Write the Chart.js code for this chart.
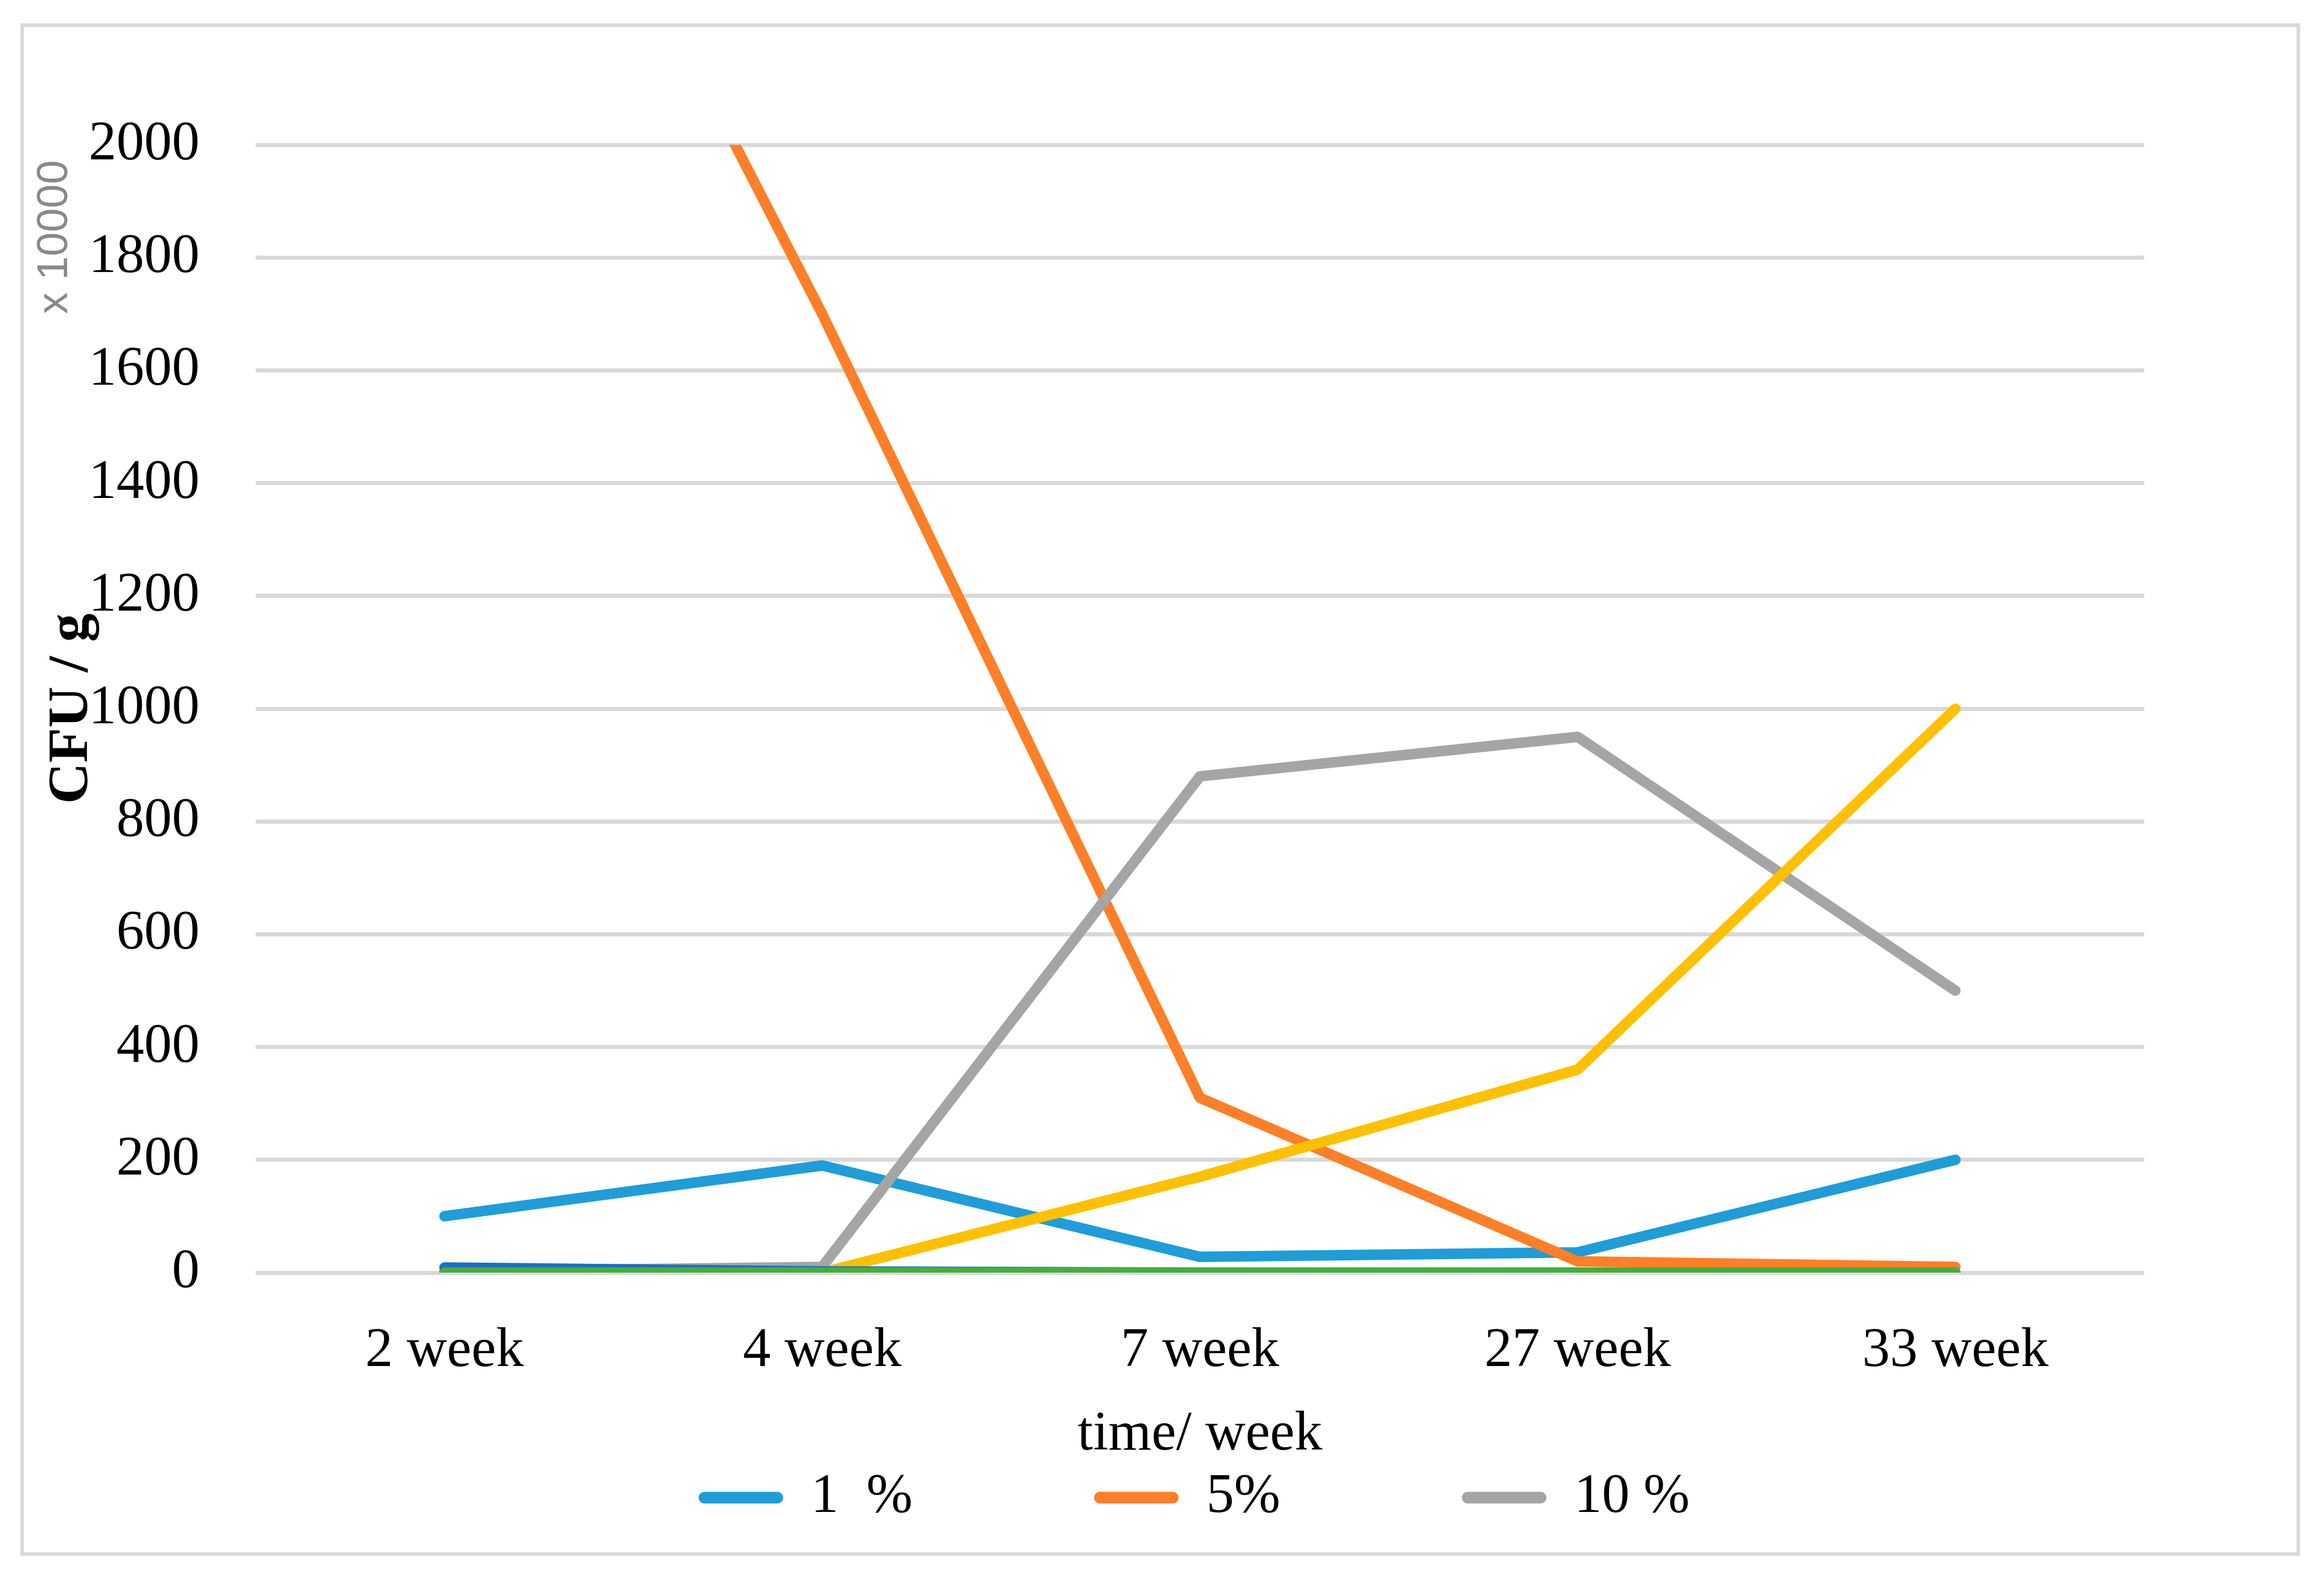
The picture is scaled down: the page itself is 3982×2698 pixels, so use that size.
<!DOCTYPE html>
<html>
<head>
<meta charset="utf-8">
<script src="https://cdn.jsdelivr.net/npm/chart.js@4"></script>
<style>
  html, body { margin: 0; padding: 0; background: #fff; overflow: hidden; }
  #wrap { position: relative; width: 3982px; height: 2698px; }
  #frame {
    position: absolute; left: 35px; top: 40px; width: 3906px; height: 2625px;
    box-sizing: border-box; border: 6px solid #d9d9d9; pointer-events: none;
  }
  canvas { position: absolute; left: 0; top: 0; }
</style>
</head>
<body>
<div id="wrap">
  <canvas id="cfuChart" width="3982" height="2698"></canvas>
  <div id="frame"></div>
</div>
<script>
const weeks = ["2 week", "4 week", "7 week", "27 week", "33 week"];
const pct1 = [100, 190, 28, 36, 200];
const pct5 = [3000, 1700, 310, 20, 10];
const pct10 = [2, 10, 880, 950, 500];
const series4 = [0, 0, 170, 360, 1000];
const series5 = [9, 2, 0, 0, 0];
const series6 = [0, 0, 0, 0, 0];
const yTicks = [0, 200, 400, 600, 800, 1000, 1200, 1400, 1600, 1800, 2000];

const serif = "'Liberation Serif', 'Times New Roman', serif";

function line(label, data, color, order, extra) {
  return Object.assign({
    label: label,
    data: data,
    borderColor: color,
    backgroundColor: color,
    borderWidth: 18,
    borderCapStyle: "round",
    borderJoinStyle: "round",
    pointRadius: 0,
    pointHoverRadius: 0,
    tension: 0,
    order: order,
  }, extra || {});
}

// little grey "x 10000" note beside the axis
const scaleNote = {
  id: "scaleNote",
  afterDraw(chart) {
    const ctx = chart.ctx;
    ctx.save();
    ctx.translate(115, 406);
    ctx.rotate(-Math.PI / 2);
    ctx.font = "74px 'Liberation Sans', Arial, sans-serif";
    ctx.fillStyle = "#898989";
    ctx.textAlign = "center";
    ctx.textBaseline = "alphabetic";
    ctx.fillText("x 10000", 0, 0);
    ctx.restore();
  },
};

const ctx = document.getElementById("cfuChart").getContext("2d");

new Chart(ctx, {
  type: "line",
  data: {
    labels: weeks,
    datasets: [
      line("1  %", pct1, "#1e9dd8", 6),
      line("5%", pct5, "#fd7f27", 5, { clip: { left: 20, top: 0, right: 20, bottom: 20 } }),
      line("10 %", pct10, "#a5a5a5", 4),
      line("Series4", series4, "#ffc000", 3),
      line("Series5", series5, "#1b6fc7", 2),
      line("Series6", series6, "#44ae3c", 1),
    ],
  },
  options: {
    responsive: false,
    devicePixelRatio: 1,
    animation: false,
    layout: { padding: { left: 110, right: 0, top: 248, bottom: 75 } },
    plugins: {
      tooltip: { enabled: false },
      legend: {
        position: "bottom",
        labels: {
          font: { family: serif, size: 95 },
          color: "#000",
          boxWidth: 145,
          boxHeight: 20,
          useBorderRadius: true,
          borderRadius: 10,
          padding: 311,
          filter: (item) => item.datasetIndex < 3, // only three entries shown
          sort: (a, b) => a.datasetIndex - b.datasetIndex,
          generateLabels: (chart) =>
            Chart.defaults.plugins.legend.labels.generateLabels(chart).map((l) => {
              l.lineWidth = 0;
              return l;
            }),
        },
      },
    },
    scales: {
      x: {
        offset: true,
        grid: { display: false },
        border: { display: false },
        // mirrored so the labels are not clipped to the thin axis box
        ticks: { font: { family: serif, size: 95 }, color: "#000", mirror: true, padding: -192 },
        title: {
          display: true,
          text: "time/ week",
          font: { family: serif, size: 95 },
          color: "#000",
          padding: { top: 0, bottom: -308 },
        },
        afterFit: (scale) => {
          scale.height = 27;
        },
      },
      y: {
        min: 0,
        max: 2000,
        afterBuildTicks: (scale) => {
          scale.ticks = yTicks.map((v) => ({ value: v }));
        },
        grid: { color: "#d9d9d9", lineWidth: 7, drawTicks: false },
        border: { display: false },
        ticks: {
          font: { family: serif, size: 95 },
          color: "#000",
          padding: 96,
          callback: (v) => String(v),
        },
        title: {
          display: true,
          text: "CFU / g",
          font: { family: serif, size: 98, weight: "bold", lineHeight: 0.27 },
          color: "#000",
          padding: 0,
        },
        afterFit: (scale) => {
          scale.width = 328;
        },
      },
      yRight: {
        position: "right",
        display: true,
        grid: { display: false },
        border: { display: false },
        ticks: { display: false },
        afterFit: (scale) => {
          scale.width = 308;
        },
      },
    },
  },
  plugins: [scaleNote],
});
</script>
</body>
</html>
